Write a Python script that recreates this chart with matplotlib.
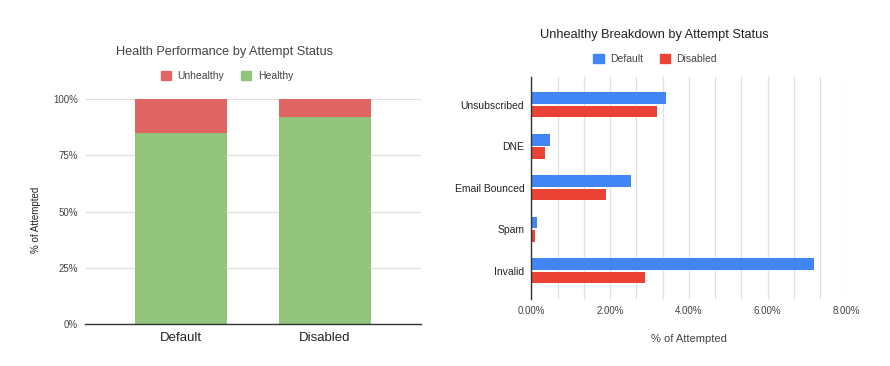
import matplotlib
matplotlib.use("Agg")
import matplotlib.pyplot as plt
from matplotlib.ticker import MultipleLocator, FuncFormatter
from matplotlib.patches import Patch
import numpy as np

plt.rcParams['font.family'] = ['Liberation Sans', 'DejaVu Sans']

# Left chart data
statuses = ["Default", "Disabled"]
healthy = [0.85, 0.92]
unhealthy = [0.15, 0.08]
left_yticks = [0, 0.25, 0.5, 0.75, 1.0]

# Right chart data
reasons = ["Unsubscribed", "DNE", "Email Bounced", "Spam", "Invalid"]
default_vals = [3.43, 0.47, 2.52, 0.145, 7.17]
disabled_vals = [3.20, 0.35, 1.89, 0.10, 2.89]
right_xticks = [0, 2, 4, 6, 8]

C_UNH = "#E06666"
C_HEA = "#93C47D"
C_DEF = "#4285F4"
C_DIS = "#EA4335"
GRID = "#E0E0E0"
TXT = "#444444"

fig = plt.figure(figsize=(8.9, 3.66), dpi=100)

# ---- Left chart ----
ax1 = fig.add_axes([85/890, 1-324/366, (421-85)/890, (324-99)/366])
x = np.arange(len(statuses))
ax1.bar(x, healthy, width=0.64, color=C_HEA, zorder=2, label="Healthy")
ax1.bar(x, unhealthy, bottom=healthy, width=0.64, color=C_UNH, zorder=2, label="Unhealthy")
ax1.set_xlim(-0.667, 1.667)
ax1.set_ylim(0, 1.0)
ax1.set_yticks(left_yticks)
ax1.yaxis.set_major_formatter(FuncFormatter(lambda v, p: f"{v*100:.0f}%"))
ax1.set_xticks(x)
ax1.set_xticklabels(statuses, fontsize=9.5, color="#222222")
ax1.tick_params(axis='y', length=0, labelsize=7, labelcolor=TXT, pad=5)
ax1.tick_params(axis='x', length=0, pad=6)
ax1.grid(axis='y', color=GRID, linewidth=0.9, zorder=0)
ax1.set_axisbelow(True)
for s in ["top", "right", "left"]:
    ax1.spines[s].set_visible(False)
ax1.spines["bottom"].set_color("#333333")
ax1.spines["bottom"].set_linewidth(1.0)
ax1.spines["bottom"].set_zorder(3)
fig.text(225/890, 1-52/366, "Health Performance by Attempt Status", ha="center", va="center",
         fontsize=9.2, color=TXT)
fig.text(36/890, 1-220/366, "% of Attempted", rotation=90, ha="center", va="center",
         fontsize=7, color="#222222")
h1 = [Patch(color=C_UNH, label="Unhealthy"), Patch(color=C_HEA, label="Healthy")]
fig.legend(handles=h1, loc="center", bbox_to_anchor=(227/890, 1-76/366), ncol=2, frameon=False,
           fontsize=7.5, handlelength=1.0, handleheight=1.0, handletextpad=0.6, columnspacing=1.6,
           labelcolor=TXT)

# ---- Right chart ----
ax2 = fig.add_axes([531.3/890, 1-299/366, (846.3-531.3)/890, (299-76.7)/366])
y = np.arange(len(reasons))
bh = 0.28
ax2.barh(y - bh/2 - 0.02, default_vals, height=bh, color=C_DEF, zorder=2, label="Default")
ax2.barh(y + bh/2 + 0.02, disabled_vals, height=bh, color=C_DIS, zorder=2, label="Disabled")
ax2.set_ylim(len(reasons) - 1 + 0.68, -0.68)
ax2.set_xlim(0, 8)
ax2.set_yticks(y)
ax2.set_yticklabels(reasons, fontsize=7.5, color="#222222")
ax2.set_xticks(right_xticks)
ax2.xaxis.set_major_formatter(FuncFormatter(lambda v, p: f"{v:.2f}%"))
ax2.xaxis.set_minor_locator(MultipleLocator(2/3))
ax2.tick_params(axis='x', which='both', length=0, labelsize=7, labelcolor=TXT, pad=5)
ax2.tick_params(axis='y', length=0, pad=5)
ax2.grid(axis='x', which='both', color=GRID, linewidth=0.9, zorder=0)
ax2.set_axisbelow(True)
for s in ["top", "right", "bottom"]:
    ax2.spines[s].set_visible(False)
ax2.spines["left"].set_color("#333333")
ax2.spines["left"].set_linewidth(1.0)
ax2.spines["left"].set_zorder(3)
fig.text(654/890, 1-35/366, "Unhealthy Breakdown by Attempt Status", ha="center", va="center",
         fontsize=9.2, color="#222222")
fig.text(689/890, 1-339/366, "% of Attempted", ha="center", va="center",
         fontsize=8, color=TXT)
h2 = [Patch(color=C_DEF, label="Default"), Patch(color=C_DIS, label="Disabled")]
fig.legend(handles=h2, loc="center", bbox_to_anchor=(655/890, 1-59/366), ncol=2, frameon=False,
           fontsize=7.5, handlelength=1.0, handleheight=1.0, handletextpad=0.6, columnspacing=1.6,
           labelcolor=TXT)

fig.savefig("out.png", dpi=100, facecolor="white")
